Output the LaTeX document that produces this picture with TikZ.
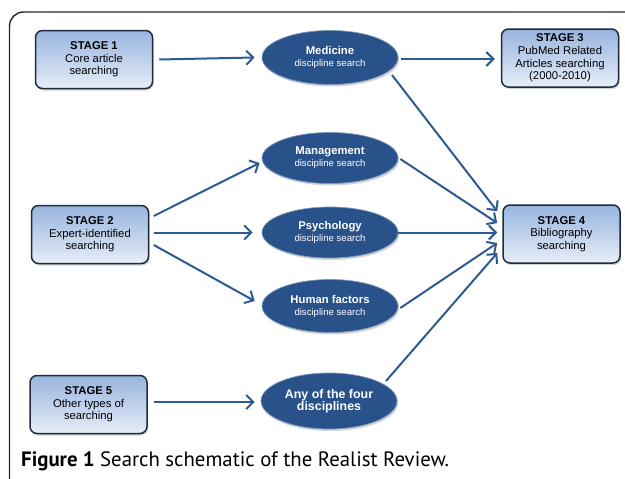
\documentclass[tikz,border=0pt]{standalone}
\usepackage{fontspec}
\setmainfont{Liberation Sans}
\newfontfamily\capfont{PT Sans}
\usetikzlibrary{arrows.meta,shapes.geometric,shadows,calc}
\definecolor{arrowblue}{HTML}{2D5A91}
\definecolor{boxedge}{HTML}{1E2B3C}
\definecolor{boxtop}{HTML}{98B4DE}
\definecolor{boxbot}{HTML}{E6EEF8}
\definecolor{discfill}{HTML}{2A528A}
\definecolor{discedge}{HTML}{7D97BD}
\begin{document}
\begin{tikzpicture}[x=1pt,y=-1pt,
  stagebox/.style={draw=boxedge, line width=1.5pt, rounded corners=7pt,
    top color=boxtop, bottom color=boxbot, minimum width=117pt, minimum height=58pt,
    inner sep=0pt, align=center, font=\fontsize{11.3}{12.7}\selectfont,
    drop shadow={shadow xshift=1.2pt, shadow yshift=-2pt, opacity=0.35}},
  disc/.style={ellipse, draw=discedge, line width=0.7pt, fill=discfill,
    minimum width=136pt, minimum height=54pt, inner sep=0pt, align=center, text=white,
    drop shadow={shadow xshift=1.2pt, shadow yshift=-2pt, opacity=0.35}},
  flow/.style={draw=arrowblue, line width=2pt, -{Straight Barb[length=7pt,width=14pt]}}]
\useasboundingbox (0,0) rectangle (625,479);
\clip (0,0) rectangle (625,479);
\draw[line width=1.4pt, rounded corners=14pt, black!85] (9.5,520) -- (9.5,12) -- (660,12);

\node[stagebox] (s1) at (94,59.5) {\textbf{STAGE 1}\\Core article\\searching};
\node[stagebox] (s2) at (90,234.5) {\textbf{STAGE 2}\\Expert-identified\\searching};
\node[stagebox] (s3) at (560,58) {\textbf{STAGE 3}\\PubMed Related\\Articles searching\\(2000-2010)};
\node[stagebox] (s4) at (561.5,234) {\textbf{STAGE 4}\\Bibliography\\searching};
\node[stagebox] (s5) at (88.5,404.5) {\textbf{STAGE 5}\\Other types of\\searching};

\node[disc] (med) at (330,57.5) {\fontsize{11.3}{11.7}\selectfont\bfseries Medicine\\\fontsize{9.6}{11.7}\selectfont\mdseries discipline search};
\node[disc, minimum height=51pt] (mgmt) at (330,158) {\fontsize{11.3}{11.7}\selectfont\bfseries Management\\\fontsize{9.6}{11.7}\selectfont\mdseries discipline search};
\node[disc, minimum height=51pt] (psy) at (330,232.5) {\fontsize{11.3}{11.7}\selectfont\bfseries Psychology\\\fontsize{9.6}{11.7}\selectfont\mdseries discipline search};
\node[disc, minimum height=53pt] (hf) at (330,306) {\fontsize{11.3}{11.7}\selectfont\bfseries Human factors\\\fontsize{9.6}{11.7}\selectfont\mdseries discipline search};
\node[disc, minimum height=56pt] (any) at (329,401) {\fontsize{12.4}{13.3}\selectfont\bfseries Any of the four\\\fontsize{12.4}{13.3}\selectfont\bfseries disciplines};

\draw[flow] ($(s1.east)+(6,0)$) -- ($(med.west)+(-7,0)$);
\draw[flow] ($(med.east)+(3,1.5)$) -- ($(s3.west)+(-6,1)$);
\draw[flow] ($(s2.east)+(4.5,-18.5)$) -- ($(mgmt.west)+(-2,5)$);
\draw[flow] ($(s2.east)+(4.5,-2)$) -- ($(psy.west)+(-9,0)$);
\draw[flow] ($(s2.east)+(4.5,10.5)$) -- ($(hf.west)+(-7,-5)$);
\draw[flow] ($(s5.east)+(6,-2.5)$) -- ($(any.west)+(-6,1)$);
\draw[flow] ($(med.center)+(62,17.5)$) -- ($(s4.north west)+(-5,7)$);
\draw[flow] ($(mgmt.east)+(2,1)$) -- ($(s4.west)+(-5,-11)$);
\draw[flow] ($(psy.east)+(0,0)$) -- ($(s4.west)+(-5,-1.5)$);
\draw[flow] ($(hf.east)+(2,2)$) -- ($(s4.west)+(-5,9)$);
\draw[flow] ($(any.center)+(57,-20)$) -- ($(s4.west)+(-5,19)$);

\node[anchor=base west, inner sep=0pt, text=black, font=\capfont\fontsize{20.8}{24}\selectfont] (cap) at (21,466) {\textbf{Figure 1} Search schematic of the Realist Review.};
\end{tikzpicture}
\end{document}
